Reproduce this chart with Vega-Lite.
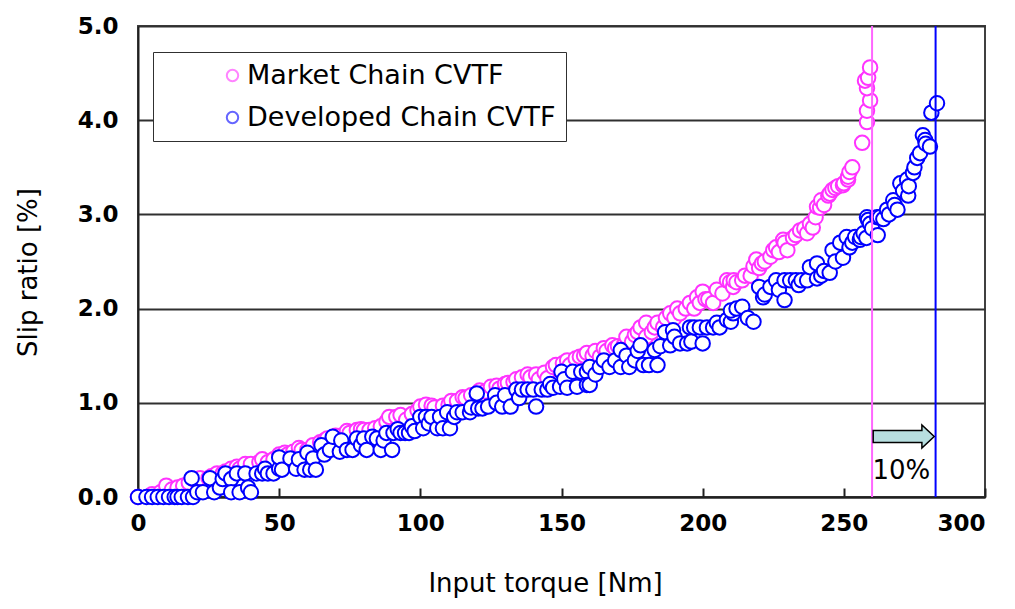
{
  "$schema": "https://vega.github.io/schema/vega-lite/v6.json",
  "width": 847,
  "height": 471,
  "autosize": {"type": "none"},
  "padding": {"left": 138, "top": 26, "right": 30, "bottom": 112},
  "background": "white",
  "config": {
    "font": "DejaVu Sans",
    "view": {"stroke": "#404040", "strokeWidth": 2},
    "axis": {"labelColor": "black", "titleColor": "black", "domainColor": "#202020", "domainWidth": 2, "tickColor": "#202020", "tickWidth": 2}
  },
  "datasets": {
    "pts": [
      {"x":0,"y":0,"s":"Market Chain CVTF"},{"x":5,"y":0.03,"s":"Market Chain CVTF"},{"x":8,"y":0.05,"s":"Market Chain CVTF"},{"x":10,"y":0.12,"s":"Market Chain CVTF"},{"x":12,"y":0.08,"s":"Market Chain CVTF"},{"x":14,"y":0.1,"s":"Market Chain CVTF"},{"x":16,"y":0.12,"s":"Market Chain CVTF"},{"x":18,"y":0.15,"s":"Market Chain CVTF"},{"x":20,"y":0.18,"s":"Market Chain CVTF"},{"x":22,"y":0.2,"s":"Market Chain CVTF"},{"x":25,"y":0.2,"s":"Market Chain CVTF"},{"x":26,"y":0.22,"s":"Market Chain CVTF"},{"x":28,"y":0.25,"s":"Market Chain CVTF"},{"x":30,"y":0.25,"s":"Market Chain CVTF"},{"x":31,"y":0.27,"s":"Market Chain CVTF"},{"x":33,"y":0.3,"s":"Market Chain CVTF"},{"x":35,"y":0.32,"s":"Market Chain CVTF"},{"x":36,"y":0.3,"s":"Market Chain CVTF"},{"x":38,"y":0.35,"s":"Market Chain CVTF"},{"x":40,"y":0.35,"s":"Market Chain CVTF"},{"x":43,"y":0.37,"s":"Market Chain CVTF"},{"x":44,"y":0.4,"s":"Market Chain CVTF"},{"x":46,"y":0.37,"s":"Market Chain CVTF"},{"x":48,"y":0.4,"s":"Market Chain CVTF"},{"x":50,"y":0.45,"s":"Market Chain CVTF"},{"x":52,"y":0.47,"s":"Market Chain CVTF"},{"x":53,"y":0.45,"s":"Market Chain CVTF"},{"x":55,"y":0.48,"s":"Market Chain CVTF"},{"x":57,"y":0.52,"s":"Market Chain CVTF"},{"x":58,"y":0.5,"s":"Market Chain CVTF"},{"x":60,"y":0.5,"s":"Market Chain CVTF"},{"x":62,"y":0.55,"s":"Market Chain CVTF"},{"x":64.5,"y":0.58,"s":"Market Chain CVTF"},{"x":66,"y":0.6,"s":"Market Chain CVTF"},{"x":67,"y":0.62,"s":"Market Chain CVTF"},{"x":69,"y":0.63,"s":"Market Chain CVTF"},{"x":70,"y":0.65,"s":"Market Chain CVTF"},{"x":72,"y":0.65,"s":"Market Chain CVTF"},{"x":74,"y":0.7,"s":"Market Chain CVTF"},{"x":75,"y":0.68,"s":"Market Chain CVTF"},{"x":77.5,"y":0.71,"s":"Market Chain CVTF"},{"x":79,"y":0.72,"s":"Market Chain CVTF"},{"x":80,"y":0.71,"s":"Market Chain CVTF"},{"x":82,"y":0.71,"s":"Market Chain CVTF"},{"x":84,"y":0.73,"s":"Market Chain CVTF"},{"x":86,"y":0.75,"s":"Market Chain CVTF"},{"x":88,"y":0.8,"s":"Market Chain CVTF"},{"x":89,"y":0.85,"s":"Market Chain CVTF"},{"x":91.5,"y":0.85,"s":"Market Chain CVTF"},{"x":93,"y":0.87,"s":"Market Chain CVTF"},{"x":95,"y":0.82,"s":"Market Chain CVTF"},{"x":97,"y":0.88,"s":"Market Chain CVTF"},{"x":99,"y":0.92,"s":"Market Chain CVTF"},{"x":100,"y":0.96,"s":"Market Chain CVTF"},{"x":102,"y":0.98,"s":"Market Chain CVTF"},{"x":104,"y":0.97,"s":"Market Chain CVTF"},{"x":105,"y":0.95,"s":"Market Chain CVTF"},{"x":108,"y":0.97,"s":"Market Chain CVTF"},{"x":110,"y":0.98,"s":"Market Chain CVTF"},{"x":111,"y":1.02,"s":"Market Chain CVTF"},{"x":113,"y":1.02,"s":"Market Chain CVTF"},{"x":115,"y":1.06,"s":"Market Chain CVTF"},{"x":116,"y":1.05,"s":"Market Chain CVTF"},{"x":118,"y":1.08,"s":"Market Chain CVTF"},{"x":120,"y":1.1,"s":"Market Chain CVTF"},{"x":121,"y":1.13,"s":"Market Chain CVTF"},{"x":123,"y":1.12,"s":"Market Chain CVTF"},{"x":125,"y":1.17,"s":"Market Chain CVTF"},{"x":127,"y":1.18,"s":"Market Chain CVTF"},{"x":128,"y":1.15,"s":"Market Chain CVTF"},{"x":130,"y":1.2,"s":"Market Chain CVTF"},{"x":131,"y":1.21,"s":"Market Chain CVTF"},{"x":133,"y":1.22,"s":"Market Chain CVTF"},{"x":134,"y":1.25,"s":"Market Chain CVTF"},{"x":136,"y":1.27,"s":"Market Chain CVTF"},{"x":138,"y":1.3,"s":"Market Chain CVTF"},{"x":139,"y":1.27,"s":"Market Chain CVTF"},{"x":141,"y":1.3,"s":"Market Chain CVTF"},{"x":142,"y":1.25,"s":"Market Chain CVTF"},{"x":144,"y":1.32,"s":"Market Chain CVTF"},{"x":145,"y":1.26,"s":"Market Chain CVTF"},{"x":147,"y":1.38,"s":"Market Chain CVTF"},{"x":148,"y":1.4,"s":"Market Chain CVTF"},{"x":150.5,"y":1.42,"s":"Market Chain CVTF"},{"x":152,"y":1.45,"s":"Market Chain CVTF"},{"x":153,"y":1.4,"s":"Market Chain CVTF"},{"x":155,"y":1.47,"s":"Market Chain CVTF"},{"x":156.5,"y":1.49,"s":"Market Chain CVTF"},{"x":158,"y":1.5,"s":"Market Chain CVTF"},{"x":159,"y":1.53,"s":"Market Chain CVTF"},{"x":161,"y":1.5,"s":"Market Chain CVTF"},{"x":162,"y":1.55,"s":"Market Chain CVTF"},{"x":163.6,"y":1.49,"s":"Market Chain CVTF"},{"x":165,"y":1.58,"s":"Market Chain CVTF"},{"x":166,"y":1.55,"s":"Market Chain CVTF"},{"x":168,"y":1.61,"s":"Market Chain CVTF"},{"x":169,"y":1.58,"s":"Market Chain CVTF"},{"x":170,"y":1.6,"s":"Market Chain CVTF"},{"x":172,"y":1.61,"s":"Market Chain CVTF"},{"x":173,"y":1.7,"s":"Market Chain CVTF"},{"x":175,"y":1.65,"s":"Market Chain CVTF"},{"x":176,"y":1.72,"s":"Market Chain CVTF"},{"x":177,"y":1.75,"s":"Market Chain CVTF"},{"x":178,"y":1.8,"s":"Market Chain CVTF"},{"x":180,"y":1.85,"s":"Market Chain CVTF"},{"x":180,"y":1.7,"s":"Market Chain CVTF"},{"x":182,"y":1.75,"s":"Market Chain CVTF"},{"x":183,"y":1.8,"s":"Market Chain CVTF"},{"x":184,"y":1.85,"s":"Market Chain CVTF"},{"x":186,"y":1.8,"s":"Market Chain CVTF"},{"x":187,"y":1.9,"s":"Market Chain CVTF"},{"x":188.5,"y":1.95,"s":"Market Chain CVTF"},{"x":190,"y":1.9,"s":"Market Chain CVTF"},{"x":191,"y":2.0,"s":"Market Chain CVTF"},{"x":192,"y":1.95,"s":"Market Chain CVTF"},{"x":194,"y":2.0,"s":"Market Chain CVTF"},{"x":195.5,"y":2.06,"s":"Market Chain CVTF"},{"x":197,"y":2.0,"s":"Market Chain CVTF"},{"x":198,"y":2.12,"s":"Market Chain CVTF"},{"x":199,"y":2.06,"s":"Market Chain CVTF"},{"x":200,"y":2.18,"s":"Market Chain CVTF"},{"x":201,"y":2.1,"s":"Market Chain CVTF"},{"x":202,"y":2.1,"s":"Market Chain CVTF"},{"x":203.7,"y":2.06,"s":"Market Chain CVTF"},{"x":205,"y":2.2,"s":"Market Chain CVTF"},{"x":207,"y":2.16,"s":"Market Chain CVTF"},{"x":208.6,"y":2.3,"s":"Market Chain CVTF"},{"x":209.7,"y":2.28,"s":"Market Chain CVTF"},{"x":210.8,"y":2.23,"s":"Market Chain CVTF"},{"x":211,"y":2.3,"s":"Market Chain CVTF"},{"x":212,"y":2.28,"s":"Market Chain CVTF"},{"x":214,"y":2.3,"s":"Market Chain CVTF"},{"x":215,"y":2.35,"s":"Market Chain CVTF"},{"x":217,"y":2.35,"s":"Market Chain CVTF"},{"x":218,"y":2.45,"s":"Market Chain CVTF"},{"x":219,"y":2.52,"s":"Market Chain CVTF"},{"x":220,"y":2.43,"s":"Market Chain CVTF"},{"x":221,"y":2.48,"s":"Market Chain CVTF"},{"x":222,"y":2.5,"s":"Market Chain CVTF"},{"x":224,"y":2.55,"s":"Market Chain CVTF"},{"x":225,"y":2.62,"s":"Market Chain CVTF"},{"x":226,"y":2.65,"s":"Market Chain CVTF"},{"x":227,"y":2.6,"s":"Market Chain CVTF"},{"x":228.5,"y":2.73,"s":"Market Chain CVTF"},{"x":229,"y":2.7,"s":"Market Chain CVTF"},{"x":230,"y":2.62,"s":"Market Chain CVTF"},{"x":232,"y":2.75,"s":"Market Chain CVTF"},{"x":233,"y":2.78,"s":"Market Chain CVTF"},{"x":234.5,"y":2.83,"s":"Market Chain CVTF"},{"x":236,"y":2.85,"s":"Market Chain CVTF"},{"x":237,"y":2.8,"s":"Market Chain CVTF"},{"x":238,"y":2.9,"s":"Market Chain CVTF"},{"x":239,"y":2.86,"s":"Market Chain CVTF"},{"x":240,"y":2.97,"s":"Market Chain CVTF"},{"x":240.5,"y":3.08,"s":"Market Chain CVTF"},{"x":241.6,"y":3.07,"s":"Market Chain CVTF"},{"x":242,"y":3.15,"s":"Market Chain CVTF"},{"x":243,"y":3.1,"s":"Market Chain CVTF"},{"x":244.5,"y":3.2,"s":"Market Chain CVTF"},{"x":245,"y":3.22,"s":"Market Chain CVTF"},{"x":246,"y":3.26,"s":"Market Chain CVTF"},{"x":247,"y":3.28,"s":"Market Chain CVTF"},{"x":248,"y":3.3,"s":"Market Chain CVTF"},{"x":249.7,"y":3.31,"s":"Market Chain CVTF"},{"x":250,"y":3.33,"s":"Market Chain CVTF"},{"x":251.5,"y":3.37,"s":"Market Chain CVTF"},{"x":251.5,"y":3.4,"s":"Market Chain CVTF"},{"x":252,"y":3.45,"s":"Market Chain CVTF"},{"x":253,"y":3.5,"s":"Market Chain CVTF"},{"x":256.5,"y":3.76,"s":"Market Chain CVTF"},{"x":258.2,"y":3.98,"s":"Market Chain CVTF"},{"x":258.2,"y":4.1,"s":"Market Chain CVTF"},{"x":259.3,"y":4.21,"s":"Market Chain CVTF"},{"x":258.2,"y":4.34,"s":"Market Chain CVTF"},{"x":257.5,"y":4.42,"s":"Market Chain CVTF"},{"x":258.6,"y":4.45,"s":"Market Chain CVTF"},{"x":259.3,"y":4.56,"s":"Market Chain CVTF"},
      {"x":0,"y":0,"s":"Developed Chain CVTF"},{"x":3,"y":0,"s":"Developed Chain CVTF"},{"x":5,"y":0,"s":"Developed Chain CVTF"},{"x":7,"y":0,"s":"Developed Chain CVTF"},{"x":9,"y":0,"s":"Developed Chain CVTF"},{"x":11,"y":0,"s":"Developed Chain CVTF"},{"x":13,"y":0,"s":"Developed Chain CVTF"},{"x":14,"y":0,"s":"Developed Chain CVTF"},{"x":15.5,"y":0,"s":"Developed Chain CVTF"},{"x":17.7,"y":0,"s":"Developed Chain CVTF"},{"x":19.5,"y":0,"s":"Developed Chain CVTF"},{"x":19,"y":0.2,"s":"Developed Chain CVTF"},{"x":21,"y":0.05,"s":"Developed Chain CVTF"},{"x":23,"y":0.05,"s":"Developed Chain CVTF"},{"x":25.5,"y":0.2,"s":"Developed Chain CVTF"},{"x":27,"y":0.05,"s":"Developed Chain CVTF"},{"x":29,"y":0.1,"s":"Developed Chain CVTF"},{"x":30,"y":0.19,"s":"Developed Chain CVTF"},{"x":31,"y":0.25,"s":"Developed Chain CVTF"},{"x":33,"y":0.19,"s":"Developed Chain CVTF"},{"x":33,"y":0.05,"s":"Developed Chain CVTF"},{"x":35,"y":0.25,"s":"Developed Chain CVTF"},{"x":36,"y":0.05,"s":"Developed Chain CVTF"},{"x":38,"y":0.25,"s":"Developed Chain CVTF"},{"x":39,"y":0.1,"s":"Developed Chain CVTF"},{"x":40,"y":0.05,"s":"Developed Chain CVTF"},{"x":42,"y":0.25,"s":"Developed Chain CVTF"},{"x":44,"y":0.25,"s":"Developed Chain CVTF"},{"x":45,"y":0.3,"s":"Developed Chain CVTF"},{"x":46,"y":0.25,"s":"Developed Chain CVTF"},{"x":48,"y":0.25,"s":"Developed Chain CVTF"},{"x":50,"y":0.3,"s":"Developed Chain CVTF"},{"x":50,"y":0.42,"s":"Developed Chain CVTF"},{"x":51,"y":0.29,"s":"Developed Chain CVTF"},{"x":54,"y":0.41,"s":"Developed Chain CVTF"},{"x":56,"y":0.3,"s":"Developed Chain CVTF"},{"x":57,"y":0.4,"s":"Developed Chain CVTF"},{"x":59,"y":0.29,"s":"Developed Chain CVTF"},{"x":60,"y":0.47,"s":"Developed Chain CVTF"},{"x":61,"y":0.29,"s":"Developed Chain CVTF"},{"x":62,"y":0.41,"s":"Developed Chain CVTF"},{"x":63,"y":0.29,"s":"Developed Chain CVTF"},{"x":65,"y":0.55,"s":"Developed Chain CVTF"},{"x":66,"y":0.45,"s":"Developed Chain CVTF"},{"x":68,"y":0.5,"s":"Developed Chain CVTF"},{"x":69,"y":0.64,"s":"Developed Chain CVTF"},{"x":71.5,"y":0.48,"s":"Developed Chain CVTF"},{"x":72,"y":0.6,"s":"Developed Chain CVTF"},{"x":74,"y":0.5,"s":"Developed Chain CVTF"},{"x":76,"y":0.5,"s":"Developed Chain CVTF"},{"x":77.5,"y":0.62,"s":"Developed Chain CVTF"},{"x":79,"y":0.55,"s":"Developed Chain CVTF"},{"x":80,"y":0.62,"s":"Developed Chain CVTF"},{"x":81,"y":0.5,"s":"Developed Chain CVTF"},{"x":83,"y":0.64,"s":"Developed Chain CVTF"},{"x":84.6,"y":0.62,"s":"Developed Chain CVTF"},{"x":86,"y":0.5,"s":"Developed Chain CVTF"},{"x":87,"y":0.6,"s":"Developed Chain CVTF"},{"x":88,"y":0.68,"s":"Developed Chain CVTF"},{"x":90,"y":0.5,"s":"Developed Chain CVTF"},{"x":90.5,"y":0.68,"s":"Developed Chain CVTF"},{"x":92,"y":0.72,"s":"Developed Chain CVTF"},{"x":93,"y":0.68,"s":"Developed Chain CVTF"},{"x":94.6,"y":0.68,"s":"Developed Chain CVTF"},{"x":96,"y":0.68,"s":"Developed Chain CVTF"},{"x":97,"y":0.75,"s":"Developed Chain CVTF"},{"x":98,"y":0.7,"s":"Developed Chain CVTF"},{"x":100,"y":0.85,"s":"Developed Chain CVTF"},{"x":101,"y":0.73,"s":"Developed Chain CVTF"},{"x":102,"y":0.85,"s":"Developed Chain CVTF"},{"x":103,"y":0.78,"s":"Developed Chain CVTF"},{"x":104,"y":0.85,"s":"Developed Chain CVTF"},{"x":106,"y":0.73,"s":"Developed Chain CVTF"},{"x":107,"y":0.85,"s":"Developed Chain CVTF"},{"x":108,"y":0.73,"s":"Developed Chain CVTF"},{"x":109.5,"y":0.9,"s":"Developed Chain CVTF"},{"x":110.5,"y":0.73,"s":"Developed Chain CVTF"},{"x":112,"y":0.85,"s":"Developed Chain CVTF"},{"x":113,"y":0.9,"s":"Developed Chain CVTF"},{"x":115,"y":0.9,"s":"Developed Chain CVTF"},{"x":117.6,"y":0.9,"s":"Developed Chain CVTF"},{"x":118,"y":0.95,"s":"Developed Chain CVTF"},{"x":120,"y":1.1,"s":"Developed Chain CVTF"},{"x":120.5,"y":0.94,"s":"Developed Chain CVTF"},{"x":122,"y":0.94,"s":"Developed Chain CVTF"},{"x":124,"y":0.96,"s":"Developed Chain CVTF"},{"x":126.5,"y":1.08,"s":"Developed Chain CVTF"},{"x":127,"y":1.0,"s":"Developed Chain CVTF"},{"x":129,"y":0.96,"s":"Developed Chain CVTF"},{"x":130,"y":1.08,"s":"Developed Chain CVTF"},{"x":132,"y":0.96,"s":"Developed Chain CVTF"},{"x":134,"y":1.14,"s":"Developed Chain CVTF"},{"x":135,"y":1.05,"s":"Developed Chain CVTF"},{"x":136,"y":1.14,"s":"Developed Chain CVTF"},{"x":138,"y":1.14,"s":"Developed Chain CVTF"},{"x":140,"y":1.14,"s":"Developed Chain CVTF"},{"x":141,"y":0.96,"s":"Developed Chain CVTF"},{"x":143,"y":1.14,"s":"Developed Chain CVTF"},{"x":145,"y":1.14,"s":"Developed Chain CVTF"},{"x":146,"y":1.2,"s":"Developed Chain CVTF"},{"x":147,"y":1.16,"s":"Developed Chain CVTF"},{"x":149.5,"y":1.17,"s":"Developed Chain CVTF"},{"x":150,"y":1.33,"s":"Developed Chain CVTF"},{"x":151,"y":1.25,"s":"Developed Chain CVTF"},{"x":152,"y":1.16,"s":"Developed Chain CVTF"},{"x":154,"y":1.33,"s":"Developed Chain CVTF"},{"x":155.5,"y":1.17,"s":"Developed Chain CVTF"},{"x":157,"y":1.33,"s":"Developed Chain CVTF"},{"x":159,"y":1.33,"s":"Developed Chain CVTF"},{"x":159,"y":1.19,"s":"Developed Chain CVTF"},{"x":160,"y":1.38,"s":"Developed Chain CVTF"},{"x":160,"y":1.19,"s":"Developed Chain CVTF"},{"x":162,"y":1.3,"s":"Developed Chain CVTF"},{"x":163.6,"y":1.38,"s":"Developed Chain CVTF"},{"x":165,"y":1.45,"s":"Developed Chain CVTF"},{"x":167,"y":1.38,"s":"Developed Chain CVTF"},{"x":169,"y":1.45,"s":"Developed Chain CVTF"},{"x":171,"y":1.56,"s":"Developed Chain CVTF"},{"x":171,"y":1.38,"s":"Developed Chain CVTF"},{"x":173,"y":1.5,"s":"Developed Chain CVTF"},{"x":174,"y":1.38,"s":"Developed Chain CVTF"},{"x":176,"y":1.45,"s":"Developed Chain CVTF"},{"x":177,"y":1.55,"s":"Developed Chain CVTF"},{"x":178,"y":1.61,"s":"Developed Chain CVTF"},{"x":179,"y":1.4,"s":"Developed Chain CVTF"},{"x":181,"y":1.4,"s":"Developed Chain CVTF"},{"x":183,"y":1.56,"s":"Developed Chain CVTF"},{"x":184,"y":1.4,"s":"Developed Chain CVTF"},{"x":185,"y":1.6,"s":"Developed Chain CVTF"},{"x":186.7,"y":1.75,"s":"Developed Chain CVTF"},{"x":188.5,"y":1.61,"s":"Developed Chain CVTF"},{"x":189.5,"y":1.77,"s":"Developed Chain CVTF"},{"x":190,"y":1.7,"s":"Developed Chain CVTF"},{"x":192,"y":1.63,"s":"Developed Chain CVTF"},{"x":194.5,"y":1.63,"s":"Developed Chain CVTF"},{"x":195.5,"y":1.8,"s":"Developed Chain CVTF"},{"x":196,"y":1.65,"s":"Developed Chain CVTF"},{"x":197,"y":1.8,"s":"Developed Chain CVTF"},{"x":199,"y":1.8,"s":"Developed Chain CVTF"},{"x":200,"y":1.63,"s":"Developed Chain CVTF"},{"x":201.5,"y":1.8,"s":"Developed Chain CVTF"},{"x":203.7,"y":1.8,"s":"Developed Chain CVTF"},{"x":205,"y":1.85,"s":"Developed Chain CVTF"},{"x":206,"y":1.8,"s":"Developed Chain CVTF"},{"x":208.6,"y":1.88,"s":"Developed Chain CVTF"},{"x":210,"y":1.86,"s":"Developed Chain CVTF"},{"x":210.8,"y":1.95,"s":"Developed Chain CVTF"},{"x":210,"y":1.98,"s":"Developed Chain CVTF"},{"x":212,"y":2.0,"s":"Developed Chain CVTF"},{"x":214,"y":2.02,"s":"Developed Chain CVTF"},{"x":216,"y":1.9,"s":"Developed Chain CVTF"},{"x":218,"y":1.86,"s":"Developed Chain CVTF"},{"x":220,"y":2.23,"s":"Developed Chain CVTF"},{"x":221.4,"y":2.12,"s":"Developed Chain CVTF"},{"x":222,"y":2.15,"s":"Developed Chain CVTF"},{"x":224,"y":2.23,"s":"Developed Chain CVTF"},{"x":226,"y":2.3,"s":"Developed Chain CVTF"},{"x":227,"y":2.2,"s":"Developed Chain CVTF"},{"x":229,"y":2.09,"s":"Developed Chain CVTF"},{"x":229,"y":2.3,"s":"Developed Chain CVTF"},{"x":231,"y":2.3,"s":"Developed Chain CVTF"},{"x":233,"y":2.3,"s":"Developed Chain CVTF"},{"x":234,"y":2.25,"s":"Developed Chain CVTF"},{"x":235,"y":2.3,"s":"Developed Chain CVTF"},{"x":237,"y":2.3,"s":"Developed Chain CVTF"},{"x":238,"y":2.44,"s":"Developed Chain CVTF"},{"x":240.5,"y":2.48,"s":"Developed Chain CVTF"},{"x":240.5,"y":2.32,"s":"Developed Chain CVTF"},{"x":242,"y":2.35,"s":"Developed Chain CVTF"},{"x":243,"y":2.4,"s":"Developed Chain CVTF"},{"x":245,"y":2.38,"s":"Developed Chain CVTF"},{"x":246,"y":2.62,"s":"Developed Chain CVTF"},{"x":247,"y":2.5,"s":"Developed Chain CVTF"},{"x":248.7,"y":2.7,"s":"Developed Chain CVTF"},{"x":249.7,"y":2.54,"s":"Developed Chain CVTF"},{"x":251,"y":2.76,"s":"Developed Chain CVTF"},{"x":252,"y":2.65,"s":"Developed Chain CVTF"},{"x":253,"y":2.7,"s":"Developed Chain CVTF"},{"x":254,"y":2.76,"s":"Developed Chain CVTF"},{"x":255.7,"y":2.73,"s":"Developed Chain CVTF"},{"x":256,"y":2.76,"s":"Developed Chain CVTF"},{"x":257,"y":2.8,"s":"Developed Chain CVTF"},{"x":258,"y":2.75,"s":"Developed Chain CVTF"},{"x":258.2,"y":2.97,"s":"Developed Chain CVTF"},{"x":258.6,"y":2.94,"s":"Developed Chain CVTF"},{"x":259.3,"y":2.9,"s":"Developed Chain CVTF"},{"x":260,"y":2.85,"s":"Developed Chain CVTF"},{"x":261.8,"y":2.97,"s":"Developed Chain CVTF"},{"x":262,"y":2.78,"s":"Developed Chain CVTF"},{"x":262.8,"y":2.97,"s":"Developed Chain CVTF"},{"x":264,"y":2.95,"s":"Developed Chain CVTF"},{"x":265.3,"y":3.05,"s":"Developed Chain CVTF"},{"x":266,"y":3.0,"s":"Developed Chain CVTF"},{"x":267.5,"y":3.15,"s":"Developed Chain CVTF"},{"x":268,"y":3.1,"s":"Developed Chain CVTF"},{"x":269,"y":3.05,"s":"Developed Chain CVTF"},{"x":270,"y":3.33,"s":"Developed Chain CVTF"},{"x":271,"y":3.25,"s":"Developed Chain CVTF"},{"x":272.4,"y":3.37,"s":"Developed Chain CVTF"},{"x":272.8,"y":3.2,"s":"Developed Chain CVTF"},{"x":273,"y":3.3,"s":"Developed Chain CVTF"},{"x":274.5,"y":3.44,"s":"Developed Chain CVTF"},{"x":275,"y":3.5,"s":"Developed Chain CVTF"},{"x":276,"y":3.6,"s":"Developed Chain CVTF"},{"x":277,"y":3.65,"s":"Developed Chain CVTF"},{"x":278,"y":3.84,"s":"Developed Chain CVTF"},{"x":278.8,"y":3.79,"s":"Developed Chain CVTF"},{"x":279,"y":3.75,"s":"Developed Chain CVTF"},{"x":280.5,"y":3.72,"s":"Developed Chain CVTF"},{"x":281,"y":4.08,"s":"Developed Chain CVTF"},{"x":283,"y":4.18,"s":"Developed Chain CVTF"}
    ],
    "rules": [{"x": 260, "c": "#ff66ff"}, {"x": 282.5, "c": "#0000ff"}],
    "arrow": [{"x": 271.2, "y": 0.643}],
    "label": [{"x": 270.4, "y": 0.276, "t": "10%"}]
  },
  "layer": [
    {
      "data": {"name": "pts"},
      "mark": {"type": "point", "shape": "circle", "filled": false, "fill": "white", "fillOpacity": 1, "size": 210, "strokeWidth": 2, "opacity": 1},
      "encoding": {
        "x": {
          "field": "x", "type": "quantitative",
          "scale": {"domain": [0, 300], "nice": false, "zero": false},
          "axis": {
            "title": "Input torque [Nm]", "values": [0, 50, 100, 150, 200, 250, 300],
            "grid": false, "tickSize": -9, "labelPadding": 24,
            "labelFontSize": 23, "labelFontWeight": "bold",
            "labelAlign": {"condition": {"test": "datum.value == 300", "value": "right"}, "value": "center"},
            "titleFontSize": 26, "titleFontWeight": "normal", "titlePadding": 35, "titleX": 407
          }
        },
        "y": {
          "field": "y", "type": "quantitative",
          "scale": {"domain": [0, 5], "nice": false},
          "axis": {
            "title": "Slip ratio [%]", "values": [0, 1, 2, 3, 4, 5], "format": ".1f",
            "grid": true, "gridColor": "#303030", "gridWidth": 2, "gridOpacity": 1,
            "tickSize": 0, "labelPadding": 20,
            "labelFontSize": 23, "labelFontWeight": "bold",
            "titleFontSize": 26, "titleFontWeight": "normal", "titlePadding": 36, "titleY": 246
          }
        },
        "stroke": {
          "field": "s", "type": "nominal",
          "scale": {"domain": ["Market Chain CVTF", "Developed Chain CVTF"], "range": ["#ff33ff", "#0000ff"]},
          "legend": {
            "title": null, "orient": "none", "legendX": 15, "legendY": 26,
            "padding": 10, "symbolOffset": 56, "symbolSize": 130, "symbolStrokeWidth": 2, "symbolOpacity": 0.6,
            "symbolType": "circle", "labelFontSize": 27, "labelColor": "black", "labelOffset": 1, "rowPadding": 14,
            "labelLimit": 600, "strokeColor": "#303030", "fillColor": "white", "cornerRadius": 0
          }
        }
      }
    },
    {
      "data": {"name": "rules"},
      "mark": {"type": "rule", "strokeWidth": 2},
      "encoding": {
        "x": {"field": "x", "type": "quantitative"},
        "stroke": {"field": "c", "type": "nominal", "scale": null, "legend": null}
      }
    },
    {
      "data": {"name": "arrow"},
      "mark": {
        "type": "point", "filled": true, "fill": "#b7dfe0", "fillOpacity": 1, "stroke": "black", "strokeWidth": 1.5, "opacity": 1,
        "size": 3721,
        "shape": "M -1 -0.197 L 0.597 -0.197 L 0.597 -0.377 L 1 0 L 0.597 0.377 L 0.597 0.197 L -1 0.197 Z"
      },
      "encoding": {
        "x": {"field": "x", "type": "quantitative"},
        "y": {"field": "y", "type": "quantitative"}
      }
    },
    {
      "data": {"name": "label"},
      "mark": {"type": "text", "fontSize": 26, "color": "black", "align": "center", "baseline": "middle"},
      "encoding": {
        "x": {"field": "x", "type": "quantitative"},
        "y": {"field": "y", "type": "quantitative"},
        "text": {"field": "t"}
      }
    }
  ]
}
